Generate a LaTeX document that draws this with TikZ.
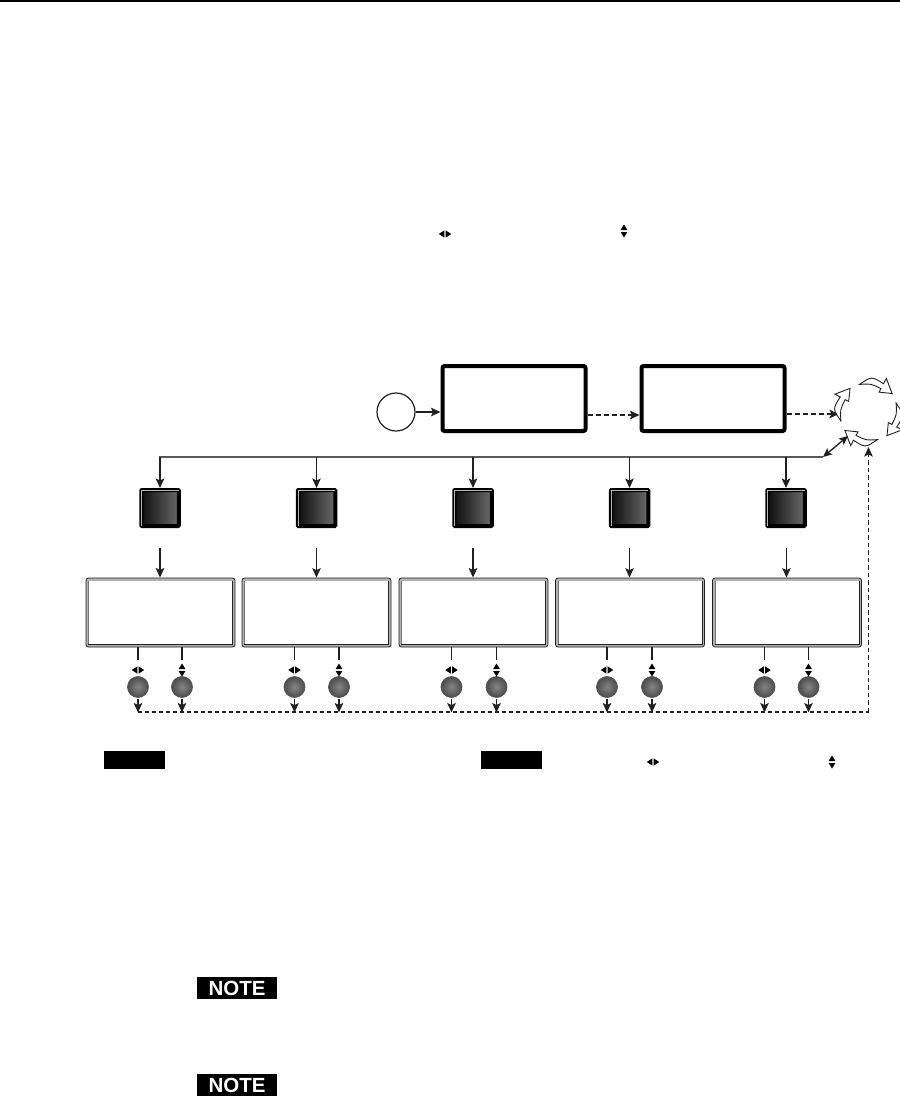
\documentclass[tikz,border=0pt]{standalone}
\usepackage{fontspec}
\setmainfont{Liberation Sans}
\usetikzlibrary{arrows.meta,calc}
\definecolor{ink}{HTML}{231F20}
\tikzset{
  x=1pt,y=-1pt,
  tip/.style={-{Stealth[length=9.5pt,width=8.5pt,inset=2pt]}},
  conn/.style={draw=ink,line width=1.2pt,tip},
  bigbox/.style={draw=black,line width=4pt,rounded corners=2pt,fill=white,minimum width=143pt,minimum height=65pt,inner sep=0pt},
  startc/.style={circle,draw=ink,line width=1.2pt,minimum size=38pt,inner sep=0pt,fill=white},
  pad/.style={rectangle,draw=black,line width=4pt,rounded corners=0.8pt,left color=black!95,right color=black!58,minimum width=37.5pt,minimum height=36pt,inner sep=0pt},
  panel/.style={rectangle,draw=ink,line width=.8pt,rounded corners=2.5pt,fill=black!30,minimum width=149pt,minimum height=69pt,inner sep=0pt},
  panelin/.style={rectangle,fill=white,minimum width=144pt,minimum height=62.5pt,inner sep=0pt},
  knob/.style={circle,draw=black!68,line width=.7pt,inner color=black!48,outer color=black!70,minimum size=21pt,inner sep=0pt},
  tag/.style={rectangle,fill=black,minimum width=61pt,minimum height=18pt,inner sep=0pt},
  notetag/.style={rectangle,fill=black,text=white,font=\fontsize{20.5pt}{20.5pt}\selectfont\bfseries,minimum width=80pt,minimum height=21.5pt,inner sep=0pt},
  cyc/.style={draw=ink,line width=.9pt,fill=white,line join=miter},
}
\newcommand{\lrglyph}[2]{%
  \fill[black] (#1-0.7,#2) ++(0,-3.6) -- ++(0,7.2) -- ++(-5.5,-3.6) -- cycle;
  \fill[black] (#1+0.7,#2) ++(0,-3.6) -- ++(0,7.2) -- ++(5.5,-3.6) -- cycle;}
\newcommand{\udglyph}[2]{%
  \fill[black] (#1,#2-1) -- ++(-3.4,0) -- ++(3.4,-5.5) -- ++(3.4,5.5) -- cycle;
  \fill[black] (#1,#2+1) -- ++(-3.4,0) -- ++(3.4,5.5) -- ++(3.4,-5.5) -- cycle;}
\newcommand{\cycarrow}[1]{%
  \pgfmathsetmacro{\sa}{#1}\pgfmathsetmacro{\ea}{#1+46}\pgfmathsetmacro{\ta}{#1+70}%
  \pgfmathsetmacro{\ma}{#1+23}%
  \draw[cyc] ($(cyc)+(\sa:29)$)
    .. controls ($(cyc)+(\ma:28.5)$) .. ($(cyc)+(\ea:26.5)$)
    -- ($(cyc)+(\ea:22.5)$) -- ($(cyc)+(\ta:30)$) -- ($(cyc)+(\ea:38)$) -- ($(cyc)+(\ea:32)$)
    .. controls ($(cyc)+(\ma:36)$) .. cycle;}
\begin{document}
\begin{tikzpicture}
\useasboundingbox (0,0) rectangle (900,1096);
\fill[white] (0,0) rectangle (900,1096);
\coordinate (ruleL) at (0,1); \coordinate (ruleR) at (900,1);
\draw[black,line width=1.3pt] (ruleL) -- (ruleR);

\node[startc] (start) at (396,412) {};
\node[bigbox] (b1) at (514,398.5) {};
\node[bigbox] (b2) at (713,398.5) {};
\coordinate (cyc) at (868.5,412);
\draw[conn,line width=2pt] (start) -- (b1.west |- start);
\draw[conn,line width=2pt,dash pattern=on 5pt off 3pt] (b1.east |- 0,415) -- (b2.west |- 0,415);
\coordinate (cycL) at (839,414);
\draw[conn,line width=2pt,dash pattern=on 5pt off 3pt] (b2.east |- cycL) -- (cycL);
\foreach \s in {162,252,342,72} {\cycarrow{\s}}

\coordinate (busL) at (159,457);
\coordinate (busR) at (823,457);
\coordinate (dbl) at (848,436);
\draw[black!65,line width=1.7pt] (busL) -- (busR);
\draw[draw=ink,line width=1.3pt,{Stealth[length=9pt,width=8pt,inset=2pt]}-{Stealth[length=9pt,width=8pt,inset=2pt]}] (dbl) -- (busR);

\foreach \n/\cx/\tx/\pcx/\kl/\kr/\wa/\wb/\wsa/\wsb in {
  1/160/160/160.5/138/182/2/2/2/2,
  2/316.5/316.5/316.5/294.5/339/1/1/1/2,
  3/473/473/473.5/451.5/496.5/2/2/1/1,
  4/629.5/629.5/630/607/652/1/1/2/2,
  5/786/786.5/787/764.5/808.5/2/1/1/1} {
  \node[pad] (s\n) at (\cx,508) {};
  \draw[white!72!black,line width=.7pt] ($(s\n.south west)+(2.2,-2.2)$) -- ($(s\n.north west)+(2.2,2.2)$) -- ($(s\n.north east)+(-2.2,2.2)$);
  \draw[conn,line width=\wa pt] (s\n.north |- busL) -- (s\n.north);
  \node[panel] (p\n) at (\pcx,612.5) {};
  \node[panelin] (pi\n) at (\pcx,612.5) {};
  \draw[ink,line width=.9pt] (pi\n.north east) -- (pi\n.south east) -- (pi\n.south west);
  \draw[black!55,line width=.6pt] (pi\n.north west) -- (pi\n.south west);
  \coordinate (t\n) at (\tx,548);
  \draw[conn,line width=\wb pt] (t\n) -- (t\n |- p\n.north);
  \node[knob] (kl\n) at (\kl,687) {};
  \node[knob] (kr\n) at (\kr,687) {};
  \coordinate (sl\n) at (\kl,660);
  \coordinate (sr\n) at (\kr,660);
  \draw[ink,line width=\wsa pt] (p\n.south -| kl\n) -- (sl\n);
  \draw[ink,line width=\wsb pt] (p\n.south -| kr\n) -- (sr\n);
  \lrglyph{\kl}{670}
  \udglyph{\kr}{670}
  \draw[white,line width=.5pt] (\kr-3.4,670) -- (\kr+3.4,670);
  \coordinate (dl\n) at (\kl,712.5);
  \coordinate (dr\n) at (\kr,712.5);
  \draw[conn,line width=1.6pt] (kl\n.south) ++(0,1.5) -- (dl\n);
  \draw[conn,line width=1.6pt] (kr\n.south) ++(0,1.5) -- (dr\n);
}
\coordinate (dashL) at (138,712);
\coordinate (dashC) at (868.5,712);
\coordinate (dashT) at (868.5,447);
\draw[draw=ink,line width=2pt,dash pattern=on 4pt off 3pt] (dashL) -- (dashC);
\draw[conn,line width=1pt,dash pattern=on 4.5pt off 3pt] (dashC) -- (dashT);

\node[tag] (tagA) at (134.5,760) {};
\node[tag] (tagB) at (511.5,760) {};
\node[notetag] (n1) at (237,988) {NOTE};
\node[notetag] (n2) at (237,1085.2) {NOTE};
\lrglyph{445}{234}
\udglyph{624}{231}
\lrglyph{653}{762}
\udglyph{832}{762}
\draw[white,line width=.5pt] (828.6,762) -- (835.4,762);
\end{tikzpicture}
\end{document}
